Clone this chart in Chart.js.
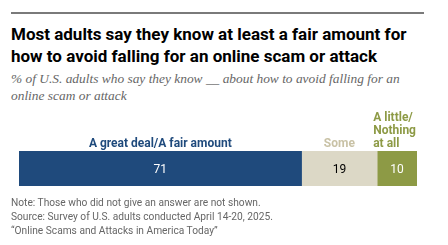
<!DOCTYPE html>
<html><head><meta charset="utf-8">
<script src="https://cdn.jsdelivr.net/npm/chart.js@4"></script>
<style>
html,body{margin:0;padding:0;background:#fff;width:448px;height:245px;overflow:hidden;}
#wrap{position:relative;width:448px;height:245px;}
#rule{position:absolute;left:11px;top:12px;width:413px;height:2px;background:#7a7a7a;}
#title{position:absolute;left:11px;top:23px;width:430px;font-family:Roboto,"Liberation Sans",sans-serif;font-weight:700;font-size:17px;line-height:22px;color:#000;}
#sub{position:absolute;left:11px;top:70px;width:420px;font-family:"Liberation Serif",serif;font-style:italic;font-size:13.4px;line-height:17px;color:#666;}
#notes{position:absolute;left:11px;top:196px;width:430px;font-family:Roboto,"Liberation Sans",sans-serif;font-size:10.2px;line-height:14px;color:#666;}
canvas{position:absolute;left:0;top:0;}
</style></head>
<body><div id="wrap">
<div id="rule"></div>
<div id="title">Most adults say they know at least a fair amount for how to avoid falling for an online scam or attack</div>
<div id="sub">% of U.S. adults who say they know __ about how to avoid falling for an<br>online scam or attack</div>
<canvas id="c" width="448" height="245"></canvas>
<div id="notes">Note: Those who did not give an answer are not shown.<br>Source: Survey of U.S. adults conducted April 14-20, 2025.<br>“Online Scams and Attacks in America Today”</div>
</div>
<script>
const categories = ["All adults"];
const seriesNames = ["A great deal/A fair amount", "Some", "A little/Nothing at all"];
const greatDealFair = [71];
const some = [19];
const littleNothing = [10];

const colors = ["#1f4a7c", "#dcd8c6", "#8d9a45"];
const labelColors = ["#1f4a7c", "#c9c2a6", "#8d9a45"];
const valueColors = ["#ffffff", "#000000", "#ffffff"];
const headerLines = [["A great deal/A fair amount"], ["Some"], ["A little/", "Nothing", "at all"]];

const labelPlugin = {
  id: 'segLabels',
  afterDatasetsDraw(chart) {
    const ctx = chart.ctx;
    chart.data.datasets.forEach((ds, i) => {
      const meta = chart.getDatasetMeta(i);
      meta.data.forEach((bar, j) => {
        const left = Math.min(bar.base, bar.x), right = Math.max(bar.base, bar.x);
        const cx = (left + right) / 2;
        const top = bar.y - bar.height / 2;
        ctx.save();
        ctx.font = '400 12px Roboto, "Liberation Sans", sans-serif';
        ctx.fillStyle = valueColors[i];
        ctx.textAlign = 'center';
        ctx.textBaseline = 'middle';
        ctx.fillText(String(ds.data[j]), cx, bar.y + 1);
        ctx.font = '700 12px Roboto, "Liberation Sans", sans-serif';
        ctx.fillStyle = labelColors[i];
        ctx.textBaseline = 'alphabetic';
        const lines = headerLines[i];
        if (lines.length > 1) {
          ctx.textAlign = 'left';
          lines.forEach((ln, k) => ctx.fillText(ln, left - 4, top - 4 - (lines.length - 1 - k) * 13));
        } else {
          ctx.fillText(lines[0], cx, top - 4);
        }
        ctx.restore();
      });
    });
  }
};

new Chart(document.getElementById('c'), {
  type: 'bar',
  data: {
    labels: categories,
    datasets: [
      { label: seriesNames[0], data: greatDealFair, backgroundColor: colors[0] },
      { label: seriesNames[1], data: some, backgroundColor: colors[1] },
      { label: seriesNames[2], data: littleNothing, backgroundColor: colors[2] }
    ]
  },
  options: {
    indexAxis: 'y',
    responsive: false,
    animation: false,
    layout: { padding: { left: 19, right: 31, top: 151, bottom: 59 } },
    datasets: { bar: { barPercentage: 1, categoryPercentage: 1, borderWidth: 0 } },
    scales: {
      x: { stacked: true, min: 0, max: 100, display: false },
      y: { stacked: true, display: false }
    },
    plugins: { legend: { display: false }, tooltip: { enabled: false }, title: { display: false } }
  },
  plugins: [labelPlugin]
});
</script>
</body></html>
